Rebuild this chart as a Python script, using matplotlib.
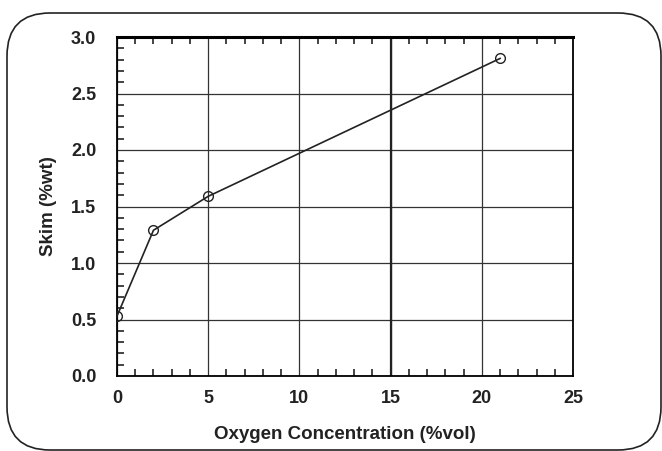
import matplotlib

matplotlib.use("Agg")
import matplotlib.pyplot as plt
from matplotlib.patches import FancyBboxPatch
from matplotlib.ticker import MultipleLocator

oxygen = [0, 2, 5, 21]
skim = [0.53, 1.29, 1.59, 2.81]
x_ticks = [0, 5, 10, 15, 20, 25]
y_ticks = [0.0, 0.5, 1.0, 1.5, 2.0, 2.5, 3.0]

plt.rcParams["font.family"] = ["Liberation Sans", "DejaVu Sans"]

fig = plt.figure(figsize=(6.62, 4.51), dpi=100)
frame = FancyBboxPatch((7 / 662, 1 / 451), 654 / 662, 437 / 451,
                       boxstyle="round,pad=0,rounding_size=0.065",
                       transform=fig.transFigure, facecolor="white",
                       edgecolor="#222222", linewidth=1.2, mutation_aspect=662 / 451,
                       zorder=-5)
fig.add_artist(frame)

ax = fig.add_axes([117 / 662, 1 - 376 / 451, 456 / 662, 339 / 451])
ax.set_facecolor("white")
ax.plot(oxygen, skim, color="#222222", linewidth=1.2, marker="o",
        markersize=7, markerfacecolor="none", markeredgecolor="#222222", markeredgewidth=1.0,
        zorder=3)

ax.set_xlim(0, 25)
ax.set_ylim(0, 3.0)
ax.set_xticks(x_ticks)
ax.set_yticks(y_ticks)
ax.set_yticklabels([f"{v:.1f}" for v in y_ticks])
ax.xaxis.set_minor_locator(MultipleLocator(1))
ax.yaxis.set_minor_locator(MultipleLocator(0.1))
ax.grid(True, which="major", color="#333333", linewidth=0.9)
# the 15 %vol gridline is drawn heavier in the source figure
ax.axvline(15, color="#222222", linewidth=1.6, zorder=2)
ax.tick_params(which="both", direction="in", top=True, right=False, bottom=True, left=True,
               colors="#111111")
ax.tick_params(which="major", length=0, labelsize=13, pad=10)
ax.tick_params(axis="y", which="major", pad=15)
ax.tick_params(which="minor", length=5, width=1.1)
for lab in ax.get_xticklabels() + ax.get_yticklabels():
    lab.set_fontweight("bold")
    lab.set_color("#222222")
for side in ["left", "right", "bottom"]:
    ax.spines[side].set_linewidth(1.3)
ax.spines["top"].set_linewidth(2.2)

ax.set_xlabel("Oxygen Concentration (%vol)", fontsize=13.5, fontweight="bold", labelpad=14,
              color="#222222")
ax.set_ylabel("Skim (%wt)", fontsize=13.5, fontweight="bold", labelpad=10, color="#222222")

fig.savefig("out.png", dpi=100)
